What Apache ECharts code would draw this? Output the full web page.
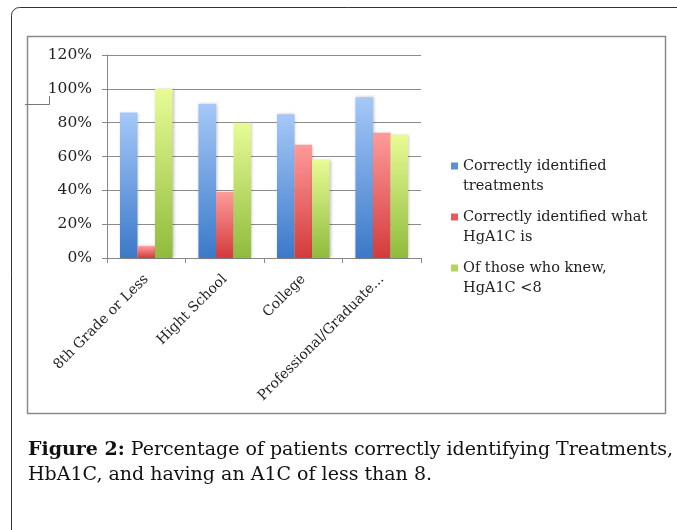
<!DOCTYPE html>
<html><head><meta charset="utf-8">
<script src="https://cdn.jsdelivr.net/npm/echarts@6/dist/echarts.min.js"></script>
<style>html,body{margin:0;padding:0;background:#fff}#c{width:677px;height:530px}</style>
</head><body><div id="c"></div>
<script>
const categories = ['8th Grade or Less', 'Hight School', 'College', 'Professional/Graduate...'];
const treatments = [86, 91, 85, 95];
const hga1c = [7, 39, 67, 74];
const under8 = [100, 80, 58, 73];
const seriesNames = ['Correctly identified\ntreatments', 'Correctly identified what\nHgA1C is', 'Of those who knew,\nHgA1C <8'];
const yTicks = [0, 20, 40, 60, 80, 100, 120];

const F = 'DejaVu Serif';
function grad(top, bottom) {
  return new echarts.graphic.LinearGradient(0, 0, 0, 1, [{offset: 0, color: top}, {offset: 1, color: bottom}]);
}
const colors = [grad('#a5c8f8', '#3b79c9'), grad('#ff9a9a', '#d33b3b'), grad('#e8fb96', '#8fbb3c')];
const legendColors = ['#5b8fd6', '#e25c5c', '#b2d65c'];

const chart = echarts.init(document.getElementById('c'));

// caption justified words
const capLine1 = ['Figure 2:', 'Percentage', 'of', 'patients', 'correctly', 'identifying', 'Treatments,'];
const capFont = '19px "' + F + '"';
const ctx = document.createElement('canvas').getContext('2d');
function w(word, bold) { ctx.font = (bold ? 'bold ' : '') + capFont; return ctx.measureText(word).width; }
const x0 = 28, x1 = 673;
let widths = capLine1.map((t, i) => w(t, i === 0));
let total = widths.reduce((a, b) => a + b, 0);
let gap = (x1 - x0 - total) / (capLine1.length - 1);
let cx = x0;
const capGraphics = [];
capLine1.forEach((t, i) => {
  capGraphics.push({type: 'text', left: cx, top: 441, style: {text: t, font: (i === 0 ? 'bold ' : '') + capFont, fill: '#111'}});
  cx += widths[i] + gap;
});
capGraphics.push({type: 'text', left: 28, top: 466, style: {text: 'HbA1C, and having an A1C of less than 8.', font: capFont, fill: '#111'}});

chart.setOption({
  animation: false,
  grid: {left: 107, right: 256, top: 55, bottom: 272, containLabel: false},
  legend: {
    orient: 'vertical', left: 446, top: 151, itemWidth: 7, itemHeight: 27, itemGap: 11,
    icon: 'path://M0,0L7,0L7,7L0,7Z M0,27L0.01,27L0,27Z',
    textStyle: {fontFamily: F, fontSize: 14.5, color: '#222', lineHeight: 20},
    data: seriesNames.map((n, i) => ({name: n, itemStyle: {color: legendColors[i]}}))
  },
  xAxis: {
    type: 'category', data: categories,
    axisLine: {lineStyle: {color: '#888'}},
    axisTick: {show: true, length: 5, lineStyle: {color: '#888'}},
    axisLabel: {rotate: 45, interval: 0, margin: 19, fontFamily: F, fontSize: 14, color: '#222'}
  },
  yAxis: {
    type: 'value', min: 0, max: 120, interval: 20,
    axisLine: {show: true, lineStyle: {color: '#888'}},
    axisTick: {show: true, length: 5, lineStyle: {color: '#888'}},
    splitLine: {lineStyle: {color: '#8c8c8c'}},
    axisLabel: {formatter: '{value}%', margin: 15, fontFamily: F, fontSize: 15.5, color: '#222'}
  },
  series: [treatments, hga1c, under8].map((d, i) => ({
    type: 'bar', name: seriesNames[i], data: d, barGap: '0%', barCategoryGap: '33%',
    itemStyle: {color: colors[i], shadowBlur: 3, shadowColor: 'rgba(0,0,0,0.25)', shadowOffsetX: 1, shadowOffsetY: 0}
  })),
  graphic: [
    {type: 'rect', shape: {x: 11.5, y: 7.5, width: 720, height: 600, r: 8}, style: {fill: null, stroke: '#333', lineWidth: 1}, z: -10},
    {type: 'rect', shape: {x: 27.5, y: 36.5, width: 638, height: 377}, style: {fill: null, stroke: '#8a8a8a', lineWidth: 1.5}, z: -10},
    {type: 'polyline', shape: {points: [[25, 104.5], [49.5, 104.5], [49.5, 96]]}, style: {stroke: '#777', lineWidth: 1, fill: null}},
  ].concat(capGraphics)
});
</script></body></html>
